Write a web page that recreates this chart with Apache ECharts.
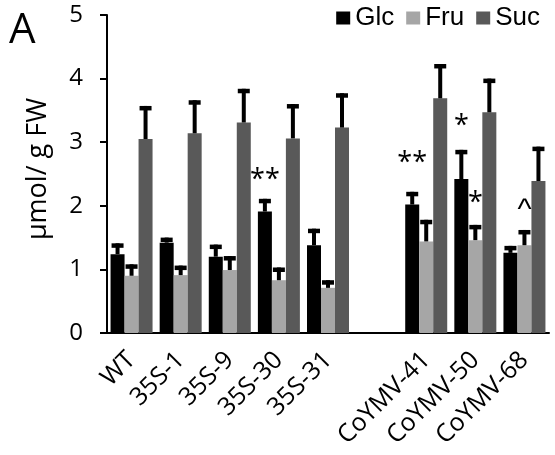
<!DOCTYPE html>
<html>
<head>
<meta charset="utf-8">
<title>Sugar content</title>
<script src="https://cdn.jsdelivr.net/npm/echarts@6/dist/echarts.min.js"></script>
<style>
  html, body { margin: 0; padding: 0; background: #fff; }
  #main { width: 555px; height: 455px; }
</style>
</head>
<body>
<div id="main"></div>
<script>
// lines, one empty slot between the 35S and CoYMV groups
var lines = ['WT', '35S-1', '35S-9', '35S-30', '35S-31', '', 'CoYMV-41', 'CoYMV-50', 'CoYMV-68'];

// means
var glc = [1.24, 1.42, 1.20, 1.91, 1.38, '-', 2.02, 2.42, 1.26];
var fru = [0.90, 0.91, 0.99, 0.83, 0.71, '-', 1.44, 1.46, 1.38];
var suc = [3.05, 3.14, 3.31, 3.06, 3.23, '-', 3.69, 3.47, 2.39];

// error bars (upper only)
var glcSd = [0.17, 0.08, 0.19, 0.20, 0.26, '-', 0.20, 0.46, 0.11];
var fruSd = [0.18, 0.15, 0.22, 0.20, 0.12, '-', 0.34, 0.24, 0.24];
var sucSd = [0.52, 0.52, 0.53, 0.54, 0.54, '-', 0.54, 0.53, 0.54];

// significance marks: [line index, series index, height, text]
var marks = [
  [3, 0, 2.40, '**'],
  [6, 0, 2.67, '**'],
  [7, 0, 3.25, '*'],
  [7, 1, 2.04, '*'],
  [8, 1, 1.93, '^']
];

var colors = ['#000000', '#a6a6a6', '#595959'];
var BAR_W = 14;
var font = 'Open Sans';

function errData(vals, sd) {
  return vals.map(function (v, i) {
    if (v === '-') return [i, '-', '-'];
    return [i, v, +(v + sd[i]).toFixed(3)];
  });
}

function errSeries(vals, sd, k) {
  return {
    type: 'custom',
    data: errData(vals, sd),
    z: 3,
    silent: true,
    renderItem: function (params, api) {
      if (isNaN(api.value(1))) return;
      var base = api.coord([api.value(0), api.value(1)]);
      var top = api.coord([api.value(0), api.value(2)]);
      var x = base[0] + (k - 1) * BAR_W;
      return {
        type: 'group',
        children: [
          { type: 'rect', shape: { x: x - 2, y: top[1], width: 4, height: base[1] - top[1] }, style: { fill: '#000' } },
          { type: 'rect', shape: { x: x - 6, y: top[1], width: 12, height: 4.5 }, style: { fill: '#000' } }
        ]
      };
    }
  };
}

function barSeries(name, vals, k) {
  return {
    name: name,
    type: 'bar',
    data: vals,
    barWidth: BAR_W,
    barGap: '0%',
    itemStyle: { color: colors[k] },
    emphasis: { disabled: true }
  };
}

var myChart = echarts.init(document.getElementById('main'));
var option = {
  animation: false,
  grid: { left: 107, right: 6, top: 15, bottom: 122 },
  legend: {
    data: ['Glc', 'Fru', 'Suc'],
    right: 10,
    top: 0,
    icon: 'rect',
    itemWidth: 14,
    itemHeight: 13,
    itemGap: 12,
    textStyle: { fontFamily: 'Liberation Sans', fontSize: 26, color: '#000' }
  },
  graphic: [{
    type: 'text',
    left: 9,
    top: 10,
    style: { text: 'A', fontFamily: font, fontSize: 42, fill: '#000' }
  }],
  xAxis: {
    type: 'category',
    data: lines,
    axisLine: { lineStyle: { color: '#000', width: 2 } },
    axisTick: { length: 8, lineStyle: { color: '#000', width: 2 } },
    axisLabel: { interval: 0, rotate: 45, margin: 23, fontFamily: font, fontSize: 25, color: '#000' }
  },
  yAxis: {
    type: 'value',
    min: 0,
    max: 5,
    interval: 1,
    name: 'μmol/ g FW',
    nameLocation: 'middle',
    nameGap: 55,
    nameTextStyle: { fontFamily: font, fontSize: 27, color: '#000', padding: [0, 0, 0, 10] },
    splitLine: { show: false },
    axisLine: { show: true, lineStyle: { color: '#000', width: 2 } },
    axisTick: { show: true, length: 7, lineStyle: { color: '#000', width: 2 } },
    axisLabel: { margin: 24, fontFamily: font, fontSize: 24, color: '#000' }
  },
  series: [
    barSeries('Glc', glc, 0),
    barSeries('Fru', fru, 1),
    barSeries('Suc', suc, 2),
    errSeries(glc, glcSd, 0),
    errSeries(fru, fruSd, 1),
    errSeries(suc, sucSd, 2),
    {
      type: 'custom',
      data: marks,
      z: 4,
      silent: true,
      renderItem: function (params, api) {
        var m = marks[params.dataIndex];
        var p = api.coord([m[0], m[2]]);
        var caret = m[3] === '^';
        return {
          type: 'text',
          x: p[0] + (m[1] - 1) * BAR_W,
          y: p[1],
          style: {
            text: m[3],
            fontFamily: caret ? 'Liberation Sans' : font,
            fontSize: caret ? 30 : 27,
            fill: '#000',
            align: 'center',
            verticalAlign: 'middle'
          }
        };
      }
    }
  ]
};
myChart.setOption(option);
</script>
</body>
</html>
